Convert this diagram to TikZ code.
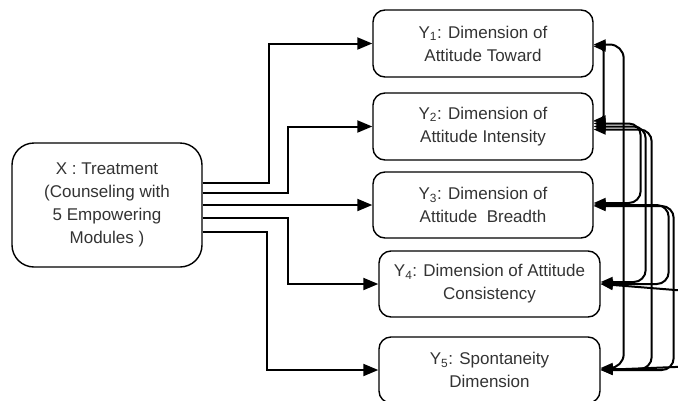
\documentclass[tikz,border=0pt]{standalone}
\usepackage{fontspec}
\setmainfont{Liberation Sans}
\usetikzlibrary{arrows.meta,calc}
\begin{document}
\begin{tikzpicture}[x=1pt,y=-1pt,
 box/.style={draw, line width=1.4pt, rounded corners=12pt, align=center,
   font=\fontsize{17}{23}\selectfont, text=black!80, inner sep=0pt},
 arr/.style={line width=2pt, -{Triangle[length=15pt,width=12pt]}},
 cor/.style={line width=2pt, rounded corners=#1,
   {Triangle[length=12pt,width=10pt]}-{Triangle[length=12pt,width=10pt]}},
 cor/.default=12pt]
\useasboundingbox (0,0) rectangle (678,400);
\clip (0,0) rectangle (678,400);

\node[box, rounded corners=22pt, minimum width=190pt, minimum height=124pt] (X) at (107,205)
  {X : Treatment\\(Counseling with\\5 Empowering\\Modules )};
\node[box, minimum width=220pt, minimum height=67pt] (Y1) at (483,43.5)
  {Y\textsubscript{1}: Dimension of\\Attitude Toward};
\node[box, minimum width=220pt, minimum height=67pt] (Y2) at (483,126.5)
  {Y\textsubscript{2}: Dimension of\\Attitude Intensity};
\node[box, minimum width=220pt, minimum height=66pt] (Y3) at (483,205)
  {Y\textsubscript{3}: Dimension of\\Attitude\ \ Breadth};
\node[box, minimum width=221pt, minimum height=66pt] (Y4) at (489.5,284)
  {Y\textsubscript{4}: Dimension of Attitude\\Consistency};
\node[box, minimum width=221pt, minimum height=66pt] (Y5) at (489.5,370)
  {Y\textsubscript{5}: Spontaneity\\Dimension};

% treatment arrows
\draw[arr] ($(X.east)+(0,-22)$) -- ++(66,0) |- (Y1.west);
\draw[arr] ($(X.east)+(0,-12)$) -- ++(85,0) |- (Y2.west);
\draw[arr] (X.east) -- (Y3.west);
\draw[arr] ($(X.east)+(0,13)$) -- ++(85,0) |- (Y4.west);
\draw[arr] ($(X.east)+(0,27)$) -- ++(64,0) |- (Y5.west);

% correlations
\draw[cor=5pt] ($(Y1.east)+(0,3)$) -- ++(10,0) |- ($(Y2.east)+(0,-6)$);
\draw[cor=14pt] ($(Y1.east)+(0,1)$) -- ++(30,0) |- ($(Y5.east)+(0,-2)$);
\draw[cor] ($(Y2.east)+(0,-3)$) -- ++(47,0) |- ($(Y3.east)+(0,-2)$);
\draw[cor] (Y2.east) -- ++(52,0) |- ($(Y4.east)+(0,-2)$);
\draw[cor] ($(Y2.east)+(0,3)$) -- ++(58,0) |- ($(Y5.east)+(0,-1)$);
\draw[cor] (Y3.east) -- ++(75,0) |- (Y4.east);
\draw[cor] ($(Y3.east)+(0,1)$) -- ++(80,0) |- (Y5.east);
\draw[cor] (Y4.east) -- (700,292) -- (700,366) -- (Y5.east);
\end{tikzpicture}
\end{document}
